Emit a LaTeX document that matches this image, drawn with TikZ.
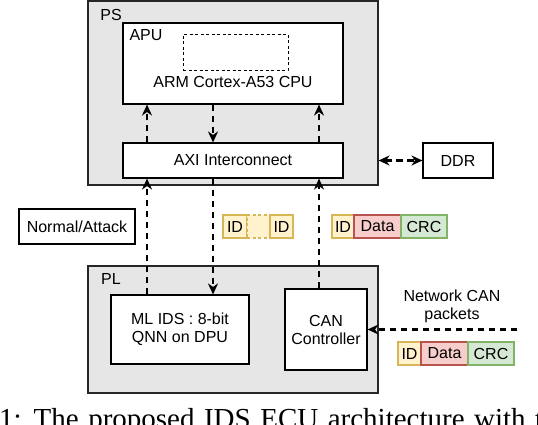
\documentclass[tikz,border=0pt]{standalone}
\usepackage{fontspec}
\setmainfont{Liberation Sans}
\newfontfamily\capfont{Liberation Serif}
\usetikzlibrary{arrows.meta}
\definecolor{grayfill}{HTML}{E6E6E6}
\definecolor{yfill}{HTML}{FFF2CC}
\definecolor{ydraw}{HTML}{D6B656}
\definecolor{rfill}{HTML}{F8CECC}
\definecolor{rdraw}{HTML}{B85450}
\definecolor{gfill}{HTML}{D5E8D4}
\definecolor{gdraw}{HTML}{82B366}
\tikzset{
  box/.style={draw=black, line width=1.1pt, fill=white, inner sep=0pt, align=center,
    font=\fontsize{16}{18}\selectfont},
  region/.style={draw=black!85, line width=1.1pt, fill=grayfill, inner sep=0pt},
  lbl/.style={inner sep=0pt, font=\fontsize{16}{18}\selectfont, align=center},
  cell/.style={line width=1.1pt, inner sep=0pt, minimum height=23pt,
    font=\fontsize{16}{18}\selectfont},
  idcell/.style={cell, draw=ydraw, fill=yfill},
  datacell/.style={cell, draw=rdraw, fill=rfill},
  crccell/.style={cell, draw=gdraw, fill=gfill},
  arr/.style={line width=2.2pt, dash pattern=on 6.5pt off 4.5pt,
    -{Stealth[length=11pt,width=10pt,inset=3.5pt]}},
  darr/.style={line width=2.2pt, dash pattern=on 6.5pt off 4.5pt,
    {Stealth[length=11pt,width=10pt,inset=3.5pt]}-{Stealth[length=11pt,width=10pt,inset=3.5pt]}},
  capline/.style={anchor=base west, inner sep=0pt, font=\capfont\fontsize{29}{31}\selectfont}
}
\begin{document}
\begin{tikzpicture}[x=1pt,y=-1pt]
\useasboundingbox (0,0) rectangle (538,424);
\clip (0,0) rectangle (538,424);
% regions
\node[region, minimum width=290pt, minimum height=184pt] (ps) at (233,93) {};
\node[lbl, anchor=center] (pslbl) at (111,15) {PS};
\node[box, minimum width=220pt, minimum height=81pt] (apu) at (233,63.5) {};
\node[lbl] (apulbl) at (146,35) {APU};
\node[draw=black, line width=1pt, dash pattern=on 3pt off 2.5pt, inner sep=0pt,
  minimum width=105pt, minimum height=36pt] (cpu) at (235.5,52) {};
\node[lbl] (cpulbl) at (233,82) {ARM Cortex-A53 CPU};
\node[box, minimum width=220pt, minimum height=35pt] (axi) at (233,160.5) {AXI Interconnect};
\node[box, minimum width=70pt, minimum height=35pt] (ddr) at (458,160.5) {DDR};
\node[box, minimum width=116pt, minimum height=35pt] (na) at (77,226.5) {Normal/Attack};
\node[region, minimum width=290pt, minimum height=127pt] (pl) at (233,329.5) {};
\node[lbl] (pllbl) at (111,279) {PL};
\node[box, minimum width=138pt, minimum height=69pt] (ml) at (180,329.5) {ML IDS : 8-bit\\QNN on DPU};
\node[box, minimum width=82pt, minimum height=81pt] (can) at (326,329.5) {CAN\\Controller};
% packets (middle)
\node[idcell, minimum width=22pt] (mid1) at (343,226.5) {ID};
\node[datacell, minimum width=47pt] (mdata) at (377.5,226.5) {Data};
\node[crccell, minimum width=46pt] (mcrc) at (424,226.5) {CRC};
% packets (left)
\node[idcell, minimum width=24pt] (lid1) at (235,226.5) {ID};
\node[cell, draw=ydraw, fill=yfill, dash pattern=on 3pt off 2.5pt, minimum width=23pt] (lmid) at (258.5,226.5) {};
\node[idcell, minimum width=23pt] (lid2) at (281.5,226.5) {ID};
% packets (bottom)
\node[idcell, minimum width=23pt] (bid) at (409.5,353.5) {ID};
\node[datacell, minimum width=47pt] (bdata) at (444.5,353.5) {Data};
\node[crccell, minimum width=46pt] (bcrc) at (491,353.5) {CRC};
% network label
\node[lbl] (netlbl) at (452,306) {Network CAN\\packets};
% column coordinates
\coordinate (c1) at (147,0);
\coordinate (c2) at (213,0);
\coordinate (c3) at (319,0);
\coordinate (netstart) at (517,329.5);
% arrows
\draw[arr] (axi.north -| c1) -- (apu.south -| c1);
\draw[arr] (apu.south -| c2) -- (axi.north -| c2);
\draw[arr] (axi.north -| c3) -- (apu.south -| c3);
\draw[arr] (ml.north -| c1) -- (axi.south -| c1);
\draw[arr] (axi.south -| c2) -- (ml.north -| c2);
\draw[arr] (can.north -| c3) -- (axi.south -| c3);
\draw[darr] (ps.east |- axi.east) -- (ddr.west);
\draw[arr] (netstart) -- (can.east |- netstart);
% caption fragment
\node[capline] (cap) at (-1,428) {\spaceskip=9.5pt\relax 1: The proposed IDS ECU architecture with the};
\end{tikzpicture}
\end{document}
